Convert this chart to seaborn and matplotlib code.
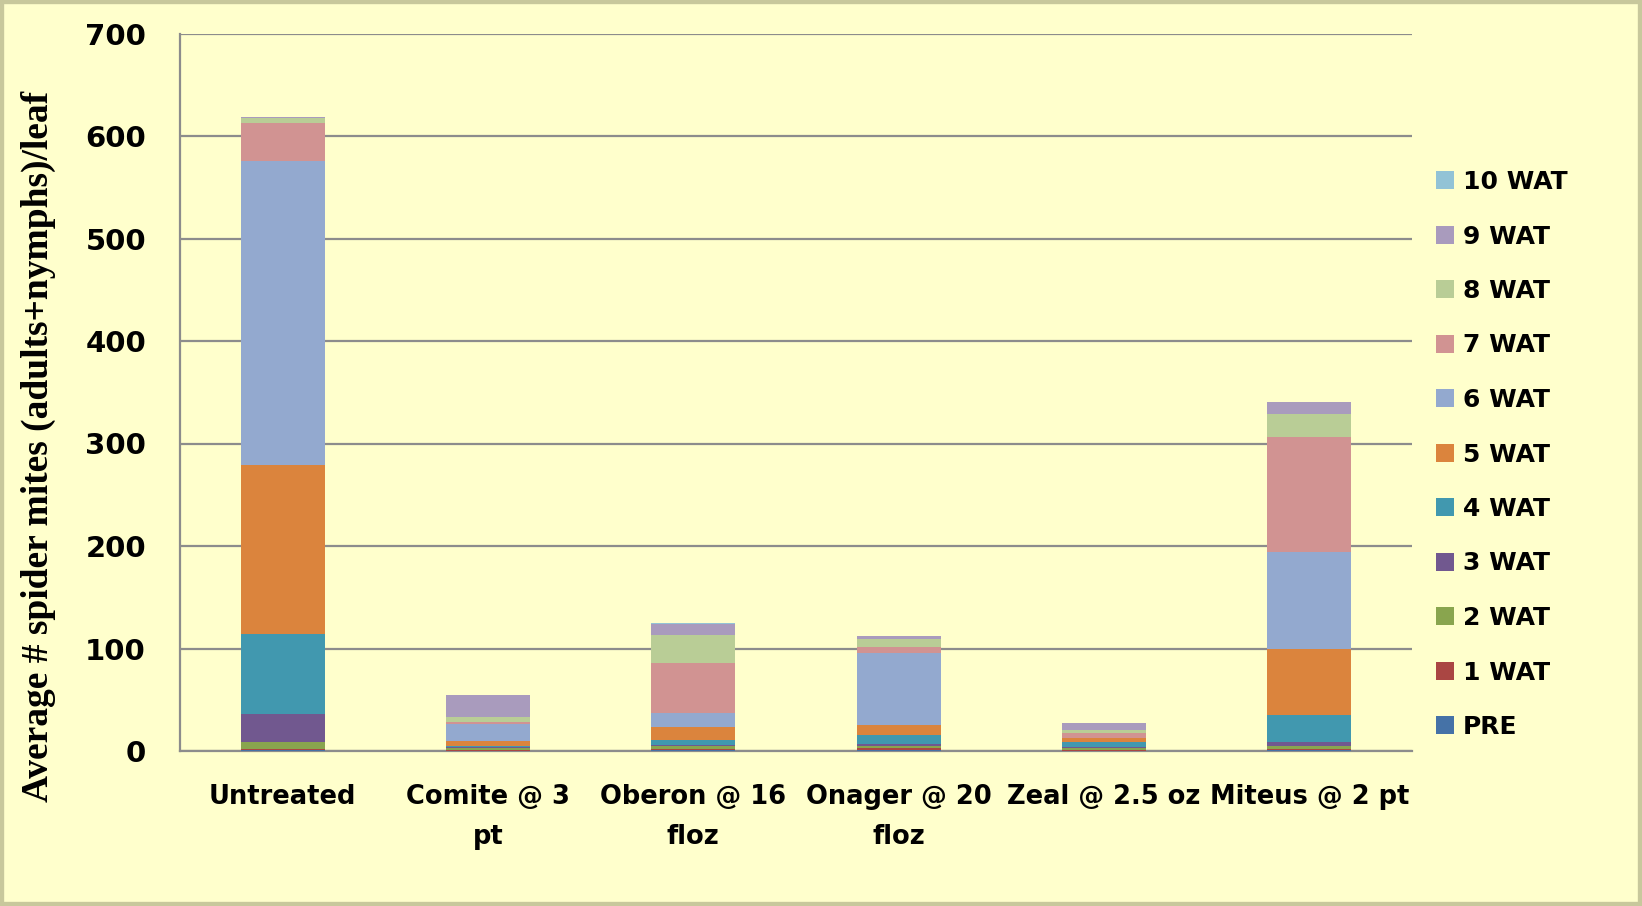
import numpy as np
import pandas as pd
import matplotlib
matplotlib.use("Agg")
import matplotlib.pyplot as plt
from matplotlib.patches import Patch, Rectangle
import seaborn as sns

categories = ["Untreated", "Comite @ 3\npt", "Oberon @ 16\nfloz", "Onager @ 20\nfloz",
              "Zeal @ 2.5 oz", "Miteus @ 2 pt"]
series_names = ["PRE", "1 WAT", "2 WAT", "3 WAT", "4 WAT", "5 WAT",
                "6 WAT", "7 WAT", "8 WAT", "9 WAT", "10 WAT"]
pre   = [0.5, 0.3, 0.5, 1.0, 0.3, 0.5]
wat1  = [1.5, 1.0, 1.0, 2.3, 1.0, 1.0]
wat2  = [6.3, 2.0, 3.0, 2.0, 2.0, 3.2]
wat3  = [28.0, 0.5, 1.0, 1.3, 1.0, 3.6]
wat4  = [77.7, 1.2, 5.5, 9.4, 4.2, 26.6]
wat5  = [165.5, 4.6, 12.7, 9.4, 3.9, 65.0]
wat6  = [296.0, 16.8, 13.6, 70.6, 0.5, 94.0]
wat7  = [37.0, 2.0, 48.2, 5.5, 4.3, 112.5]
wat8  = [5.0, 4.9, 27.3, 8.1, 3.2, 22.5]
wat9  = [1.5, 21.0, 11.4, 2.6, 6.5, 12.0]
wat10 = [0.0, 0.3, 0.2, 0.3, 0.2, 0.0]
series_values = [pre, wat1, wat2, wat3, wat4, wat5, wat6, wat7, wat8, wat9, wat10]
colors = ["#4572A7", "#AA4643", "#89A54E", "#71588F", "#4198AF", "#DB843D",
          "#93A9CF", "#D19392", "#B9CD96", "#A99BBD", "#92C3D6"]
yticks = [0, 100, 200, 300, 400, 500, 600, 700]

BG = "#FFFFCC"
sns.set_style("white")
plt.rcParams['font.family'] = ['DejaVu Sans']
plt.rcParams['text.color'] = 'black'
plt.rcParams['xtick.labelcolor'] = 'black'
plt.rcParams['ytick.labelcolor'] = 'black'

fig = plt.figure(figsize=(16.42, 9.06), dpi=100, facecolor=BG)
ax = fig.add_axes([180/1642, 1 - 751/906, (1412-180)/1642, (751-33.5)/906])
ax.set_facecolor(BG)

cum = np.cumsum(np.array(series_values), axis=0)
# draw from top of stack down so lower segments overlay upper cumulative bars
for i in range(len(series_names) - 1, -1, -1):
    df = pd.DataFrame({"cat": categories, "val": cum[i]})
    sns.barplot(data=df, x="cat", y="val", order=categories, color=colors[i],
                saturation=1, width=0.41, ax=ax, linewidth=0, errorbar=None, zorder=3)

ax.set_xlim(-0.5, 5.5)
ax.set_ylim(0, 700)
ax.set_yticks(yticks)
ax.set_yticklabels([str(t) for t in yticks], fontsize=21, fontweight="bold", color="black")
ax.yaxis.grid(True, color="#8C8C8C", linewidth=1.6, zorder=0)
ax.set_axisbelow(True)
ax.set_xlabel("")
ax.set_ylabel("")

ax.set_xticks(range(len(categories)))
ax.set_xticklabels(categories, fontsize=18.5, fontweight="bold", linespacing=1.7, color="black")
ax.set_xticks(np.arange(-0.5, 6.0, 1.0), minor=True)
ax.tick_params(axis="x", which="major", length=0, pad=24)
ax.tick_params(axis="x", which="minor", length=8, width=1.5, color="#8C8C8C", direction="out")
ax.tick_params(axis="y", length=12, width=1.5, color="#8C8C8C", direction="out", pad=12.5)

for s in ["top", "right"]:
    ax.spines[s].set_visible(False)
for s in ["left", "bottom"]:
    ax.spines[s].set_color("#8C8C8C")
    ax.spines[s].set_linewidth(1.6)

handles = [Patch(facecolor=colors[i], edgecolor="none", label=series_names[i])
           for i in range(len(series_names) - 1, -1, -1)]
leg = fig.legend(handles=handles, loc="center left", bbox_to_anchor=(1436/1642, 1 - 454.5/906),
                 frameon=False, prop={"weight": "bold", "size": 18},
                 handlelength=0.72, handleheight=0.72, handletextpad=0.35,
                 labelspacing=1.22, borderpad=0, borderaxespad=0, labelcolor="black")

fig.text(38/1642, 1 - 446.6/906, "Average # spider mites (adults+nymphs)/leaf",
         rotation=90, ha="center", va="center", fontsize=27, fontweight="bold",
         color="black", family=["Liberation Serif", "DejaVu Serif"])

fig.patches.append(Rectangle((0, 0), 1, 1, transform=fig.transFigure, fill=False,
                             edgecolor="#C8C89C", linewidth=6, zorder=10))

fig.savefig("out.png", dpi=100, facecolor=BG)
